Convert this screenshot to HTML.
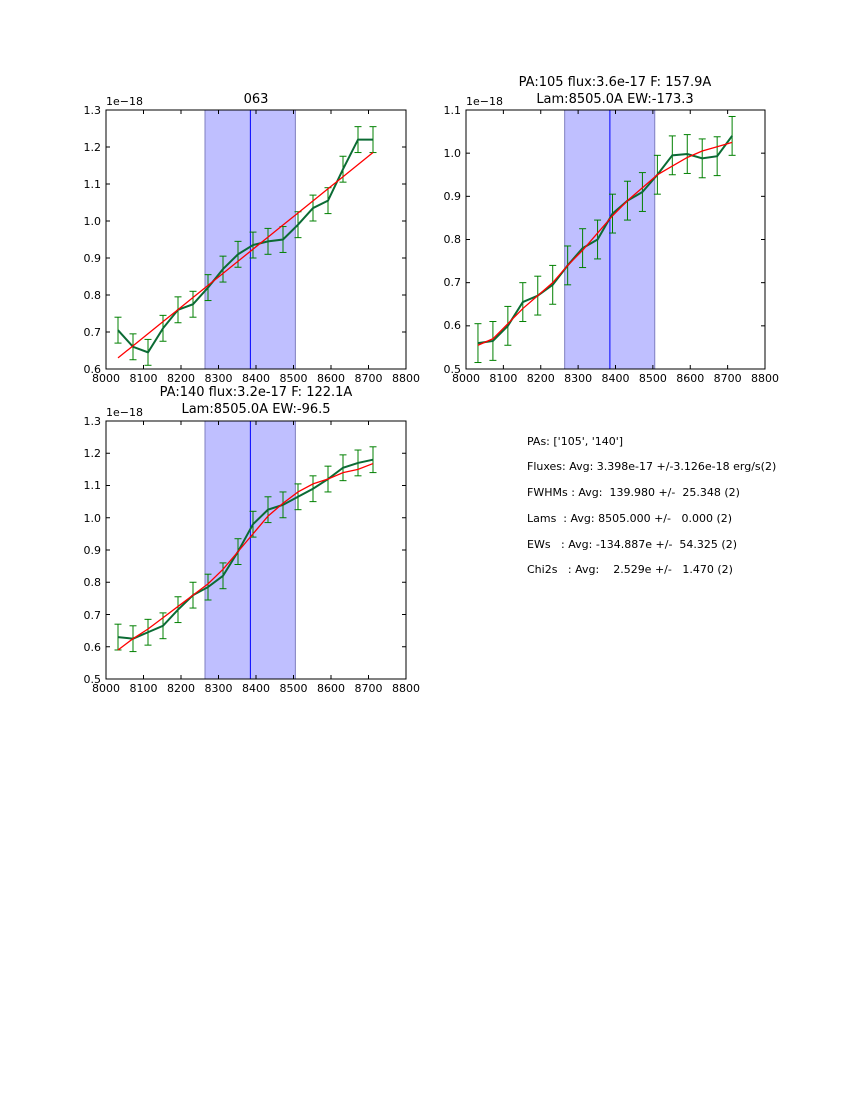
<!DOCTYPE html>
<html><head><meta charset="utf-8"><style>
body{margin:0;background:#fff;}
svg text{font-family:"DejaVu Sans","Liberation Sans",sans-serif;fill:#000;}
</style></head><body>
<svg id="s" width="850" height="1100" xmlns="http://www.w3.org/2000/svg">
<rect width="850" height="1100" fill="#fff"/>
<g id="g"></g>
<!-- plot 1 labels -->
<text x="256" y="103" font-size="13" text-anchor="middle">063</text>
<text x="106" y="105" font-size="11">1e−18</text>
<g font-size="11" text-anchor="end">
<text x="101" y="114">1.3</text><text x="101" y="151">1.2</text><text x="101" y="188">1.1</text><text x="101" y="225">1.0</text><text x="101" y="262">0.9</text><text x="101" y="299">0.8</text><text x="101" y="336">0.7</text><text x="101" y="373">0.6</text>
</g>
<g font-size="11" text-anchor="middle">
<text x="106" y="382">8000</text><text x="143.5" y="382">8100</text><text x="181" y="382">8200</text><text x="218.5" y="382">8300</text><text x="256" y="382">8400</text><text x="293.5" y="382">8500</text><text x="331" y="382">8600</text><text x="368.5" y="382">8700</text><text x="406" y="382">8800</text>
</g>
<!-- plot 2 labels -->
<text x="615" y="86" font-size="13" text-anchor="middle">PA:105 flux:3.6e-17 F: 157.9A</text>
<text x="615" y="103" font-size="13" text-anchor="middle">Lam:8505.0A EW:-173.3</text>
<text x="466" y="105" font-size="11">1e−18</text>
<g font-size="11" text-anchor="end">
<text x="461" y="114">1.1</text><text x="461" y="157">1.0</text><text x="461" y="200">0.9</text><text x="461" y="243">0.8</text><text x="461" y="286">0.7</text><text x="461" y="329">0.6</text><text x="461" y="373">0.5</text>
</g>
<g font-size="11" text-anchor="middle">
<text x="466" y="382">8000</text><text x="503.4" y="382">8100</text><text x="540.8" y="382">8200</text><text x="578.1" y="382">8300</text><text x="615.5" y="382">8400</text><text x="652.9" y="382">8500</text><text x="690.3" y="382">8600</text><text x="727.6" y="382">8700</text><text x="765" y="382">8800</text>
</g>
<!-- plot 3 labels -->
<text x="256" y="396" font-size="13" text-anchor="middle">PA:140 flux:3.2e-17 F: 122.1A</text>
<text x="256" y="413" font-size="13" text-anchor="middle">Lam:8505.0A EW:-96.5</text>
<text x="106" y="416" font-size="11">1e−18</text>
<g font-size="11" text-anchor="end">
<text x="101" y="425">1.3</text><text x="101" y="457">1.2</text><text x="101" y="489">1.1</text><text x="101" y="522">1.0</text><text x="101" y="554">0.9</text><text x="101" y="586">0.8</text><text x="101" y="619">0.7</text><text x="101" y="651">0.6</text><text x="101" y="683">0.5</text>
</g>
<g font-size="11" text-anchor="middle">
<text x="106" y="692">8000</text><text x="143.5" y="692">8100</text><text x="181" y="692">8200</text><text x="218.5" y="692">8300</text><text x="256" y="692">8400</text><text x="293.5" y="692">8500</text><text x="331" y="692">8600</text><text x="368.5" y="692">8700</text><text x="406" y="692">8800</text>
</g>
<g font-size="11" style="white-space:pre">
<text x="527" y="445" xml:space="preserve">PAs: ['105', '140']</text>
<text x="527" y="470" xml:space="preserve">Fluxes: Avg: 3.398e-17 +/-3.126e-18 erg/s(2)</text>
<text x="527" y="496" xml:space="preserve">FWHMs : Avg:  139.980 +/-  25.348 (2)</text>
<text x="527" y="522" xml:space="preserve">Lams  : Avg: 8505.000 +/-   0.000 (2)</text>
<text x="527" y="548" xml:space="preserve">EWs   : Avg: -134.887e +/-  54.325 (2)</text>
<text x="527" y="573" xml:space="preserve">Chi2s   : Avg:    2.529e +/-   1.470 (2)</text>
</g>
</svg>
<script>
var g=document.getElementById('g'),NS='http://www.w3.org/2000/svg';
function el(t,a){var e=document.createElementNS(NS,t);for(var k in a)e.setAttribute(k,a[k]);g.appendChild(e);return e;}
var xs=[];for(var i=0;i<18;i++)xs.push(8032+40*i);
function plot(L,T,R,B,y0,y1,ystep,gr,rd,err){
 var X=function(v){return L+(v-8000)/800*(R-L)},Y=function(v){return B-(v-y0)/(y1-y0)*(B-T)};
 el('rect',{x:X(8264),y:T,width:X(8505)-X(8264),height:B-T,fill:'#bfbfff',stroke:'#7f7fbf','stroke-width':1});
 el('line',{x1:X(8385),x2:X(8385),y1:T,y2:B,stroke:'#0000ff','stroke-width':1});
 for(var i=0;i<18;i++){var x=X(xs[i]),a=Y(gr[i]-err),b=Y(gr[i]+err);
  el('line',{x1:x,x2:x,y1:a,y2:b,stroke:'#008000','stroke-width':1});
  el('line',{x1:x-3.5,x2:x+3.5,y1:a,y2:a,stroke:'#008000','stroke-width':1});
  el('line',{x1:x-3.5,x2:x+3.5,y1:b,y2:b,stroke:'#008000','stroke-width':1});}
 var p=xs.map(function(x,i){return X(x)+','+Y(gr[i])}).join(' ');
 el('polyline',{points:p,fill:'none',stroke:'#0b6b34','stroke-width':2});
 p=xs.map(function(x,i){return X(x)+','+Y(rd[i])}).join(' ');
 el('polyline',{points:p,fill:'none',stroke:'#ff0000','stroke-width':1.3});
 el('rect',{x:L,y:T,width:R-L,height:B-T,fill:'none',stroke:'#000','stroke-width':1});
 for(var v=8000;v<=8800;v+=100){var x=X(v);el('line',{x1:x,x2:x,y1:B,y2:B-4,stroke:'#000'});el('line',{x1:x,x2:x,y1:T,y2:T+4,stroke:'#000'});}
 for(var v=y0;v<=y1+1e-9;v+=ystep){var y=Y(v);el('line',{x1:L,x2:L+4,y1:y,y2:y,stroke:'#000'});el('line',{x1:R,x2:R-4,y1:y,y2:y,stroke:'#000'});}
}
plot(106,110,406,369,0.6,1.3,0.1,
[0.705,0.66,0.645,0.71,0.76,0.775,0.82,0.87,0.91,0.935,0.945,0.95,0.99,1.035,1.055,1.14,1.22,1.22],
[0.63,0.655,0.68,0.705,0.73,0.76,0.79,0.82,0.85,0.885,0.915,0.945,0.975,1.005,1.035,1.07,1.1,1.13].map(function(v,i){return 0.63+i*(1.185-0.63)/17}),0.035);
plot(466,110,765,369,0.5,1.1,0.1,
[0.56,0.565,0.60,0.655,0.67,0.695,0.74,0.78,0.80,0.86,0.89,0.91,0.95,0.995,0.998,0.988,0.993,1.04],
[0.555,0.57,0.605,0.64,0.67,0.70,0.74,0.775,0.815,0.855,0.89,0.92,0.95,0.97,0.99,1.005,1.015,1.025],0.045);
plot(106,421,406,679,0.5,1.3,0.1,
[0.63,0.625,0.645,0.665,0.715,0.76,0.785,0.82,0.895,0.98,1.025,1.04,1.065,1.09,1.12,1.155,1.17,1.18],
[0.59,0.625,0.655,0.69,0.725,0.76,0.795,0.84,0.895,0.95,1.005,1.045,1.08,1.105,1.12,1.14,1.15,1.168],0.04);
</script>
</body></html>
